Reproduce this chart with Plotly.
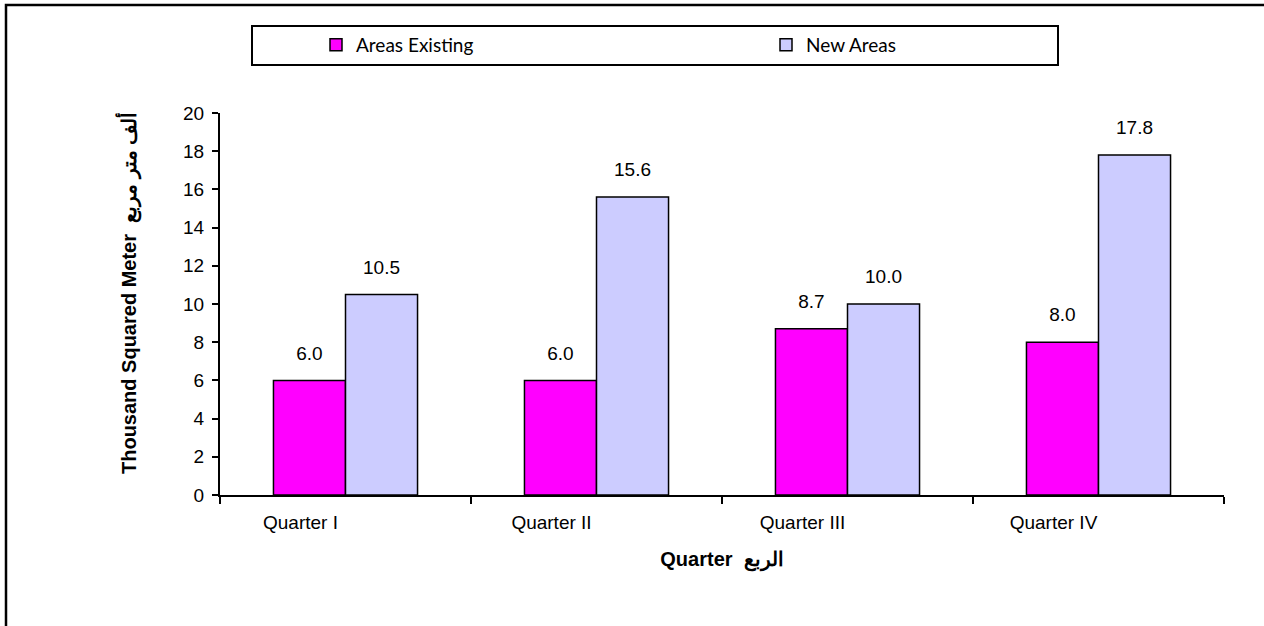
import plotly.graph_objects as go

categories = ["Quarter I", "Quarter II", "Quarter III", "Quarter IV"]
areas_existing = [6.0, 6.0, 8.7, 8.0]
new_areas = [10.5, 15.6, 10.0, 17.8]
y_ticks = [0, 2, 4, 6, 8, 10, 12, 14, 16, 18, 20]

W, H = 1264, 626
L, R, T, B = 220, 40, 113, 131
pw, ph = W - L - R, H - T - B

def px_x(x):
    return (x - L) / pw

def px_y(y):
    return (H - B - y) / ph

font = "Liberation Sans, Arial, sans-serif"
TICK = 19
TITLE = 20

fig = go.Figure()
series = [
    ("Areas Existing", areas_existing, "#FF00FF", "a"),
    ("New Areas", new_areas, "#CCCCFF", "b"),
]
for name, vals, color, grp in series:
    fig.add_trace(go.Bar(
        name=name, x=categories, y=vals, offsetgroup=grp,
        marker=dict(color=color, line=dict(color="black", width=1.5)),
    ))
for name, vals, color, grp in series:
    fig.add_trace(go.Scatter(
        x=categories, y=vals, offsetgroup=grp, mode="markers+text",
        marker=dict(size=24, opacity=0),
        text=[f"{v:.1f}" for v in vals], textposition="top center",
        textfont=dict(family=font, size=TICK, color="black"),
        showlegend=False, hoverinfo="skip", cliponaxis=False,
    ))

fig.update_layout(
    width=W, height=H,
    margin=dict(l=L, r=R, t=T, b=B, autoexpand=False),
    paper_bgcolor="white", plot_bgcolor="white",
    barmode="group", bargap=0.426, bargroupgap=0,
    scattermode="group",
    font=dict(family=font, color="black"),
    showlegend=True,
    legend=dict(
        orientation="h", x=px_x(316), y=px_y(45), xanchor="left", yanchor="middle",
        entrywidth=405, entrywidthmode="pixels",
        font=dict(family="Lato, Carlito, sans-serif", size=19, color="black"),
        bgcolor="rgba(0,0,0,0)", borderwidth=0, itemwidth=30,
    ),
    shapes=[
        dict(type="rect", xref="paper", yref="paper",
             x0=px_x(252), x1=px_x(1058), y0=px_y(65), y1=px_y(26),
             line=dict(color="black", width=2), fillcolor="rgba(0,0,0,0)", layer="below"),
        dict(type="rect", xref="paper", yref="paper",
             x0=px_x(6), x1=px_x(1300), y0=px_y(700), y1=px_y(5),
             line=dict(color="black", width=2.5), fillcolor="rgba(0,0,0,0)", layer="below"),
    ],
)

fig.update_xaxes(
    showline=True, linecolor="black", linewidth=2,
    ticks="outside", tickson="boundaries", ticklen=7, tickwidth=2, tickcolor="black",
    tickfont=dict(family=font, size=TICK, color="black"),
    ticklabelstandoff=9, ticklabelshift=-45,
    showgrid=False, zeroline=False,
    title=dict(text="<b>Quarter  الربع</b>", font=dict(family=font, size=TITLE, color="black"), standoff=20),
)
fig.update_yaxes(
    range=[0, 20], tickvals=y_ticks, showline=True, linecolor="black", linewidth=2,
    ticks="outside", ticklen=6, tickwidth=2, tickcolor="black",
    tickfont=dict(family=font, size=TICK, color="black"), ticklabelstandoff=4,
    showgrid=False, zeroline=False,
    title=dict(text="<b>&nbsp;&nbsp;&nbsp;&nbsp;Thousand Squared Meter  ألف متر مربع</b>",
               font=dict(family=font, size=TITLE, color="black"), standoff=41),
)

fig.write_html("out.html", config={"displayModeBar": False},
               post_script="document.body.style.margin='0';")
